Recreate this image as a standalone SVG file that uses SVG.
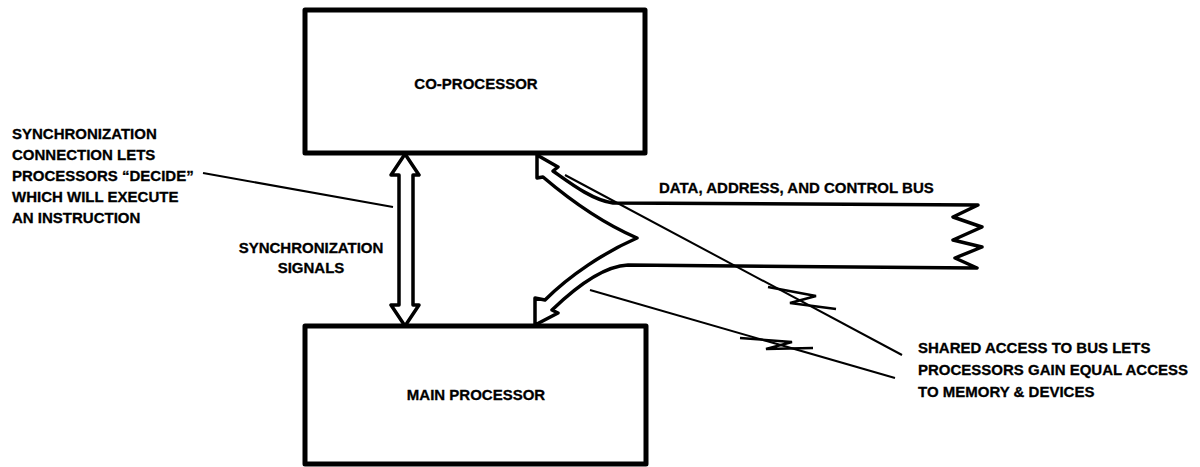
<svg xmlns="http://www.w3.org/2000/svg" width="1200" height="467" viewBox="0 0 1200 467">
<style>
.box{fill:#fff;stroke:#000;stroke-width:5;stroke-linejoin:round}
.t{font-family:"Liberation Sans",Arial,sans-serif;font-weight:bold;font-size:15px;fill:#000;stroke:#000;stroke-width:0.3}
.m{text-anchor:middle}
.bus{fill:#fff;stroke:#000;stroke-width:3.5;stroke-linejoin:round}
.ld{fill:none;stroke:#000;stroke-width:2;stroke-linejoin:round}
.zz{fill:none;stroke:#000;stroke-width:2.5;stroke-linejoin:miter}
</style>
<rect width="1200" height="467" fill="#fff"/>
<g id="co-processor">
<rect class="box" x="305" y="10" width="340" height="143"/>
<text class="t m" x="476" y="89">CO-PROCESSOR</text>
</g>
<g id="main-processor">
<rect class="box" x="305" y="326" width="341" height="138"/>
<text class="t m" x="476" y="400">MAIN PROCESSOR</text>
</g>
<g id="connectors">
<path id="sync-arrow" class="bus" d="M405,154 L419,175 L413,175 L413,305 L419,305 L405,326 L391,305 L399,305 L399,175 L391,175 Z"/>
<path id="bus" class="bus" d="M613,203 L978,205 L953,217 L982,227 L953,240 L982,247 L955,258 L977,268 L628,265 C605,266 580,283 552,310 L558,313 L535,325 L535,298 L545,300 C570,275 605,252 637,238 C600,222 570,200 543,177 L537,178 L537,155 L558,167 L553,171 C570,183 592,200 613,203 Z"/>
<line class="ld" x1="203" y1="173" x2="393" y2="207"/>
<line class="ld" x1="565" y1="175" x2="902" y2="355"/>
<line class="ld" x1="590" y1="290" x2="895" y2="378"/>
<polyline class="zz" points="768,287 816,296 790,303 836,309"/>
<polyline class="zz" points="740,338 792,342 766,349 813,348"/>
</g>
<g id="sync-connection-label">
<text class="t" x="12" y="139">SYNCHRONIZATION</text>
<text class="t" x="12" y="160">CONNECTION LETS</text>
<text class="t" x="12" y="181">PROCESSORS “DECIDE”</text>
<text class="t" x="12" y="202">WHICH WILL EXECUTE</text>
<text class="t" x="12" y="223">AN INSTRUCTION</text>
</g>
<g id="sync-signals-label">
<text class="t m" x="311" y="253">SYNCHRONIZATION</text>
<text class="t m" x="311" y="273">SIGNALS</text>
</g>
<g id="bus-label">
<text class="t" x="659" y="193">DATA, ADDRESS, AND CONTROL BUS</text>
</g>
<g id="shared-access-label">
<text class="t" x="918" y="353">SHARED ACCESS TO BUS LETS</text>
<text class="t" x="918" y="375">PROCESSORS GAIN EQUAL ACCESS</text>
<text class="t" x="918" y="397">TO MEMORY &amp; DEVICES</text>
</g>
</svg>
